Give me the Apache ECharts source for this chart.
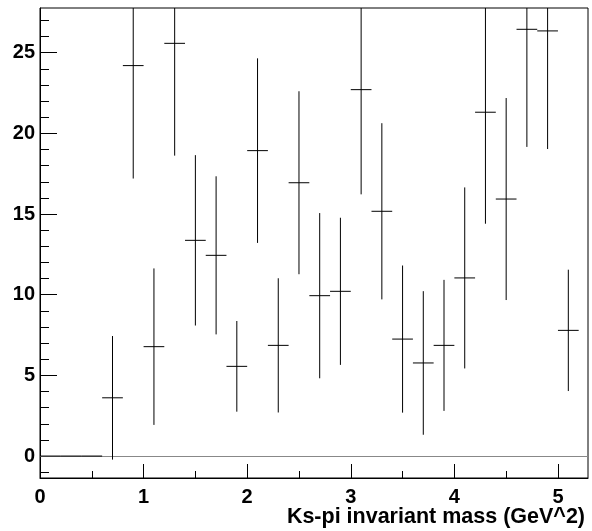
<!doctype html>
<html>
<head>
    <meta charset="UTF-8">
    <title>Ks-pi invariant mass</title>
    <style>
        body { margin: 0; padding: 0; background: #fff; }
        #main { width: 592px; height: 531px; }
    </style>
</head>
<body>
    <div id="main"></div>

    <script src="https://cdn.jsdelivr.net/npm/echarts@6/dist/echarts.min.js"></script>
    <script>
        // histogram bins (width 0.2), content and error
        var binWidth = 0.2;
        var binCenters = [0.1, 0.3, 0.5, 0.7, 0.9, 1.1, 1.3, 1.5, 1.7, 1.9, 2.1, 2.3, 2.5,
                          2.7, 2.9, 3.1, 3.3, 3.5, 3.7, 3.9, 4.1, 4.3, 4.5, 4.7, 4.9, 5.1];
        var counts = [0, 0, 0, 3.61, 24.2, 6.78, 25.58, 13.37, 12.44, 5.56, 18.93, 6.86, 16.94,
                      9.94, 10.21, 22.71, 15.17, 7.25, 5.77, 6.86, 11.04, 21.31, 15.93, 26.45, 26.35, 7.79];
        var errors = [0, 0, 0, 3.83, 7.0, 4.85, 6.96, 5.28, 4.9, 2.81, 5.72, 4.16, 5.67,
                      5.12, 4.56, 6.49, 5.46, 4.56, 4.45, 4.06, 5.61, 6.91, 6.26, 7.29, 7.32, 3.76];

        // axis ticks
        var xTicks = [0, 1, 2, 3, 4, 5];
        var xMinorTicks = [0.5, 1.5, 2.5, 3.5, 4.5];
        var yTicks = [0, 5, 10, 15, 20, 25];
        var yMinorTicks = [-1, 0, 1, 2, 3, 4, 5, 6, 7, 8, 9, 10, 11, 12, 13, 14,
                           15, 16, 17, 18, 19, 20, 21, 22, 23, 24, 25, 26, 27];

        var xMin = 0, xMax = 5.29;
        var yMin = -1.36, yMax = 27.77;
        var xTitle = 'Ks-pi invariant mass (GeV^2)';

        var font = '"Liberation Sans", Arial, Helvetica, sans-serif';

        var histData = binCenters.map(function (x, i) {
            return [x, counts[i], errors[i]];
        });

        function renderItem(params, api) {
            var x = api.value(0), v = api.value(1), e = api.value(2);
            var left = api.coord([x - binWidth / 2, v]);
            var right = api.coord([x + binWidth / 2, v]);
            var top = api.coord([x, v + e]);
            var bot = api.coord([x, v - e]);
            var st = { stroke: '#000', lineWidth: 1 };
            return {
                type: 'group',
                children: [
                    { type: 'line', shape: { x1: left[0], y1: left[1], x2: right[0], y2: right[1] }, style: st },
                    { type: 'line', shape: { x1: top[0], y1: top[1], x2: bot[0], y2: bot[1] }, style: st }
                ]
            };
        }

        function xAxisBase(extra) {
            var a = {
                type: 'value',
                min: xMin,
                max: xMax,
                position: 'bottom',
                axisLine: { show: false, onZero: false },
                splitLine: { show: false },
                axisLabel: { show: false },
                axisTick: { show: false }
            };
            for (var k in extra) a[k] = extra[k];
            return a;
        }

        function yAxisBase(extra) {
            var a = {
                type: 'value',
                min: yMin,
                max: yMax,
                position: 'left',
                axisLine: { show: false, onZero: false },
                splitLine: { show: false },
                axisLabel: { show: false },
                axisTick: { show: false }
            };
            for (var k in extra) a[k] = extra[k];
            return a;
        }

        var myChart = echarts.init(document.getElementById('main'));

        var option = {
            backgroundColor: '#fff',
            animation: false,
            title: {
                text: xTitle,
                right: 7,
                top: 506,
                padding: 0,
                textStyle: { fontFamily: font, fontWeight: 'bold', fontSize: 21.5, color: '#000' }
            },
            grid: {
                left: 40, top: 8, right: 4, bottom: 53,
                show: true,
                borderColor: '#000',
                borderWidth: 1
            },
            xAxis: [
                xAxisBase({
                    axisLine: { show: true, onZero: false, lineStyle: { color: '#000', width: 1 } },
                    axisTick: { show: true, inside: true, length: 14, customValues: xTicks, lineStyle: { color: '#000' } },
                    axisLabel: {
                        show: true, customValues: xTicks, margin: 9,
                        fontFamily: font, fontWeight: 'bold', fontSize: 20, color: '#000'
                    }
                }),
                xAxisBase({
                    axisTick: { show: true, inside: true, length: 7, customValues: xMinorTicks, lineStyle: { color: '#000' } }
                })
            ],
            yAxis: [
                yAxisBase({
                    axisLine: { show: true, onZero: false, lineStyle: { color: '#000', width: 1 } },
                    axisTick: { show: true, inside: true, length: 17, customValues: yTicks, lineStyle: { color: '#000' } },
                    axisLabel: {
                        show: true, customValues: yTicks, margin: 5,
                        fontFamily: font, fontWeight: 'bold', fontSize: 20, color: '#000'
                    }
                }),
                yAxisBase({
                    axisTick: { show: true, inside: true, length: 9, customValues: yMinorTicks, lineStyle: { color: '#000' } }
                })
            ],
            series: [
                {
                    type: 'custom',
                    xAxisIndex: 0,
                    yAxisIndex: 0,
                    clip: true,
                    renderItem: renderItem,
                    data: histData,
                    encode: { x: 0, y: 1 },
                    z: 3,
                    markLine: {
                        silent: true,
                        symbol: 'none',
                        z: 1,
                        label: { show: false },
                        lineStyle: { color: '#888', width: 1, type: 'solid' },
                        data: [{ yAxis: 0 }]
                    }
                }
            ]
        };
        myChart.setOption(option);
    </script>
</body>
</html>
